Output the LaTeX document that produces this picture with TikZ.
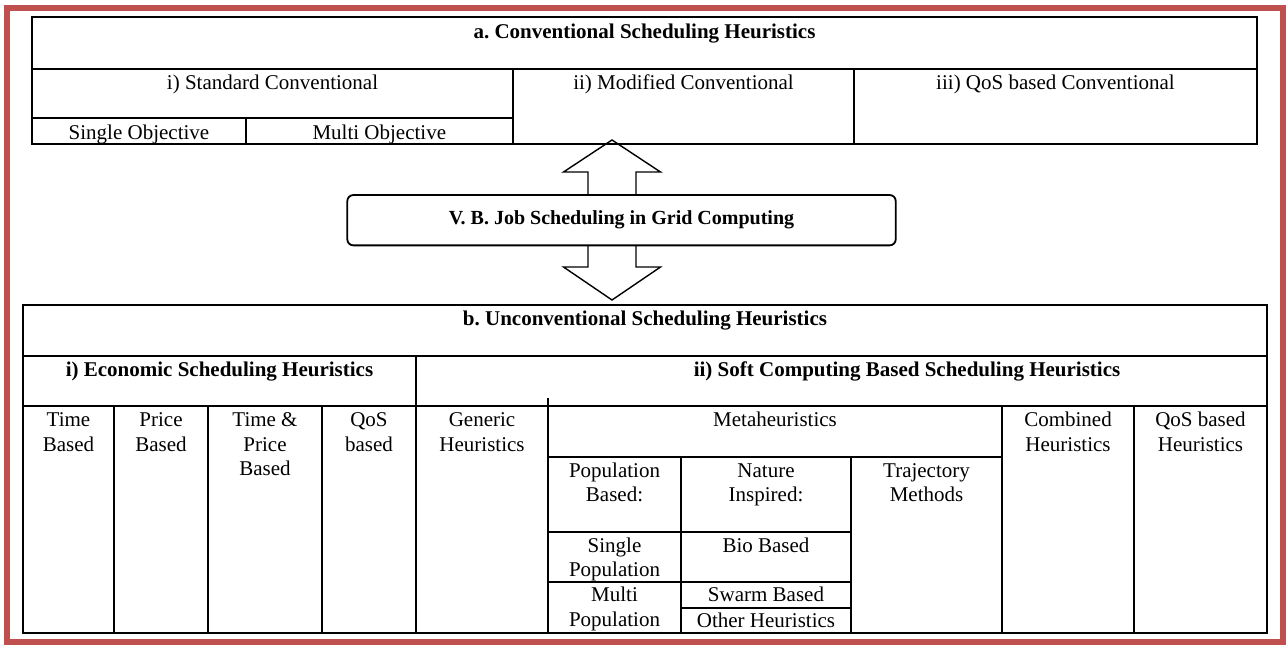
\documentclass[tikz,border=0pt]{standalone}
\usepackage{fontspec}
\setmainfont{Liberation Serif}
\definecolor{framered}{HTML}{C0504D}
% centred stack of lines whose baseline is the first line's baseline
\newcommand\cellstack[1]{\vtop{\let\\\cr\halign{\hfil##\hfil\cr#1\crcr}}}

\begin{document}
\frenchspacing
\begin{tikzpicture}[x=0.5pt,y=-0.5pt,
  rule/.style={line width=1pt, black},
  thinrule/.style={line width=0.6pt, black},
  celltext/.style={anchor=base, inner sep=0pt, font=\fontsize{10.5}{12.15}\selectfont},
  headtext/.style={celltext, font=\fontsize{10.5}{12.15}\selectfont\bfseries},
  blockarrow/.style={draw=black, fill=white, line width=0.7pt, line join=miter},
  hubbox/.style={draw=black, fill=white, line width=0.9pt, rounded corners=3pt,
    minimum width=274.2pt, minimum height=25.15pt, inner sep=0pt,
    font=\fontsize{10}{12}\selectfont\bfseries}
]
\useasboundingbox (0,0) rectangle (1288,648);
\fill[white] (0,0) rectangle (1288,648);

% outer frame
\draw[framered, line width=3.25pt] (7,8) rectangle (1283,642);

% double block arrow behind the central box
\coordinate (upTip) at (612,140);
\coordinate (downTip) at (612,300);
\draw[blockarrow] (upTip) -- ++(48.5,32) -- ++(-24.5,0) -- ++(0,95) -- ++(24.5,0)
  -- (downTip) -- ++(-48.5,-33) -- ++(24.5,0) -- ++(0,-95) -- ++(-24.5,0) -- cycle;
\node[hubbox] (hub) at (621.5,220.2) {V. B. Job Scheduling in Grid Computing};

% ---- table a: conventional heuristics
\draw[rule] (32,17) rectangle (1257,144);
\draw[rule] (32,69) -- (1257,69);
\draw[rule] (513,69) -- (513,144);
\draw[rule] (854,69) -- (854,144);
\draw[rule] (32,118) -- (513,118);
\draw[rule] (245.7,118) -- (245.7,144);

\node[headtext] (aTitle) at (644.5,39) {a. Conventional Scheduling Heuristics};
\node[celltext] (aStd) at (272.5,89.3) {i) Standard Conventional};
\node[celltext] (aMod) at (683.5,89.3) {ii) Modified Conventional};
\node[celltext] (aQos) at (1055.5,89.3) {iii) QoS based Conventional};
\node[celltext] (aSingle) at (139,139.3) {Single Objective};
\node[celltext] (aMulti) at (379.3,139.3) {Multi Objective};

% ---- table b: unconventional heuristics
\draw[rule] (23,305) rectangle (1267,633);
\draw[rule] (23,356) -- (1267,356);
\draw[rule] (23,406) -- (1267,406);
\draw[thinrule] (416,356) -- (416,423);
\draw[rule] (416,406) -- (416,633);
\foreach \xx in {114,208,322,1002,1134} \draw[rule] (\xx,406) -- (\xx,633);
\draw[rule] (548,398) -- (548,633);
% metaheuristics sub-grid
\draw[rule] (548,457) -- (1002,457);
\draw[rule] (681,457) -- (681,633);
\draw[rule] (851,457) -- (851,633);
\draw[rule] (548,532) -- (851,532);
\draw[rule] (548,582) -- (851,582);
\draw[rule] (681,608) -- (851,608);

\node[headtext] (bTitle) at (645,325) {b. Unconventional Scheduling Heuristics};
\node[headtext] (bEco) at (219.5,376) {i) Economic Scheduling Heuristics};
\node[headtext] (bSoft) at (907,376) {ii) Soft Computing Based Scheduling Heuristics};

\node[celltext] (eTime) at (68.5,426.7) {\cellstack{Time\\Based}};
\node[celltext] (ePrice) at (161,426.7) {\cellstack{Price\\Based}};
\node[celltext] (eTimePrice) at (265,426.7) {\cellstack{Time \&\\Price\\Based}};
\node[celltext] (eQos) at (369,426.7) {\cellstack{QoS\\based}};
\node[celltext] (sGeneric) at (482,426.7) {\cellstack{Generic\\Heuristics}};
\node[celltext] (sMeta) at (775,426.7) {Metaheuristics};
\node[celltext] (sCombined) at (1068,426.7) {\cellstack{Combined\\Heuristics}};
\node[celltext] (sQos) at (1200.5,426.7) {\cellstack{QoS based\\Heuristics}};

\node[celltext] (mPop) at (614.5,477.3) {\cellstack{Population\\Based:}};
\node[celltext] (mNature) at (766,477.3) {\cellstack{Nature\\Inspired:}};
\node[celltext] (mTraj) at (926.5,477.3) {\cellstack{Trajectory\\Methods}};
\node[celltext] (mSingle) at (614.5,552.3) {\cellstack{Single\\Population}};
\node[celltext] (mBio) at (766,552.3) {Bio Based};
\node[celltext] (mMulti) at (614.5,601.7) {\cellstack{Multi\\Population}};
\node[celltext] (mSwarm) at (766,601.7) {Swarm Based};
\node[celltext] (mOther) at (766,627.3) {Other Heuristics};
\end{tikzpicture}
\end{document}
